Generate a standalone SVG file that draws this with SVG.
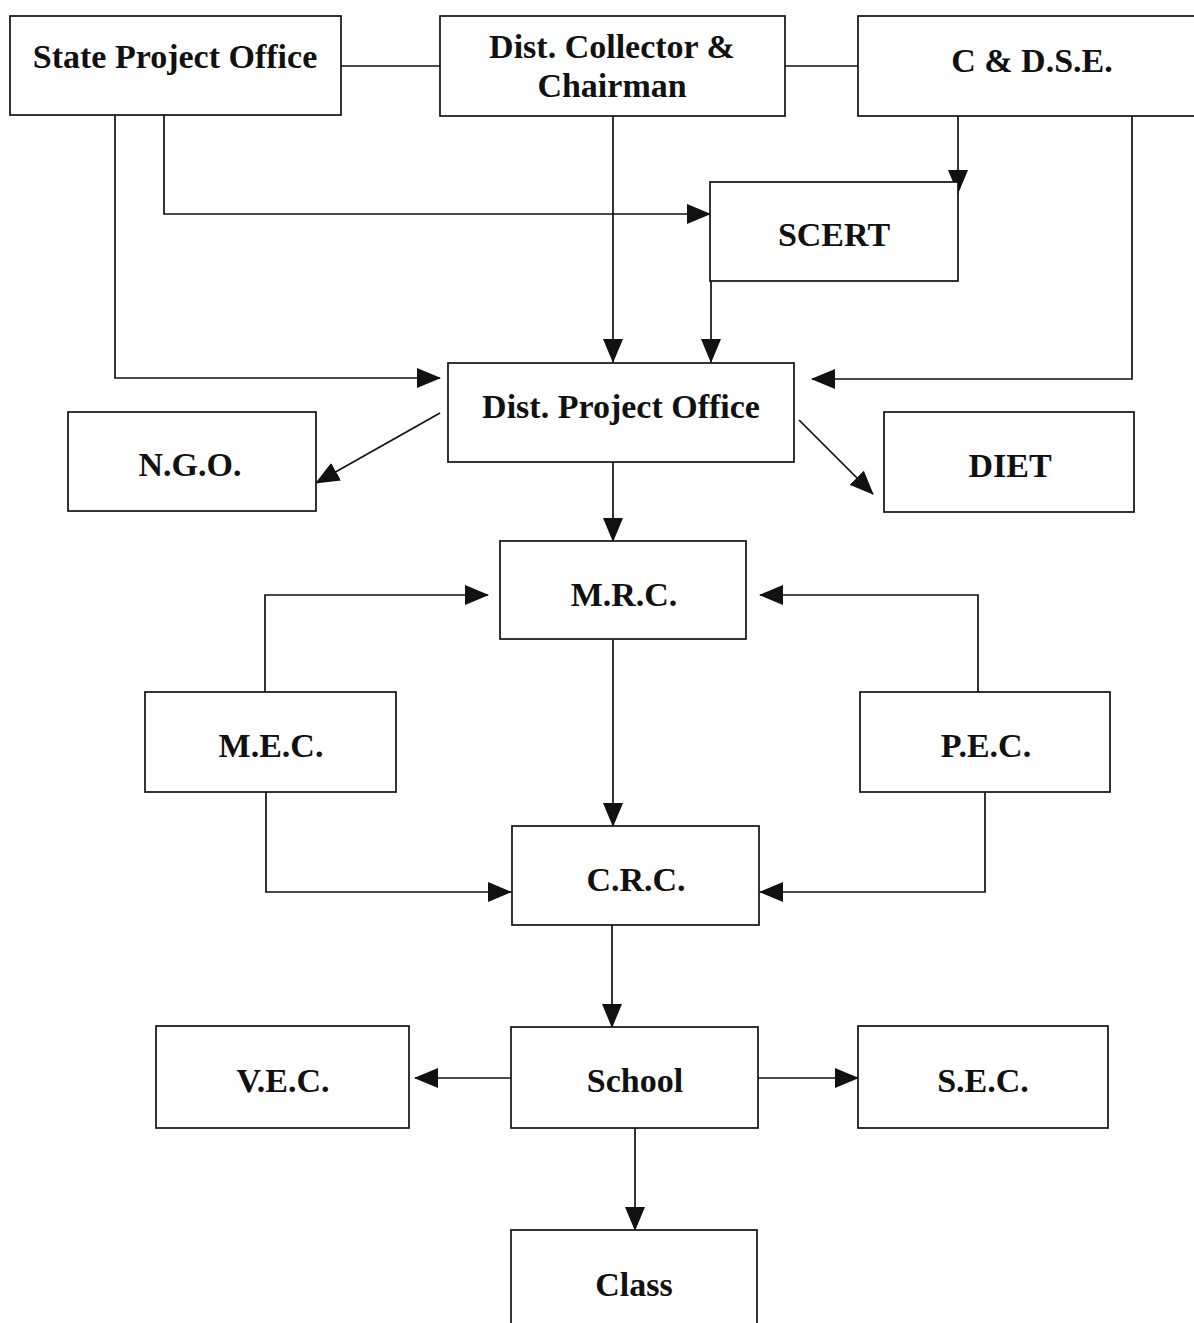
<svg xmlns="http://www.w3.org/2000/svg" width="1194" height="1323" viewBox="0 0 1194 1323">
<style>
.box{fill:#fff;stroke:#111;stroke-width:1.7}
.lbl{font-family:"Liberation Serif","Times New Roman",serif;font-weight:bold;font-size:34px;fill:#111;text-anchor:middle}
.c{fill:none;stroke:#111;stroke-width:1.7}
</style>
<defs>
<marker id="ah" markerUnits="userSpaceOnUse" markerWidth="24" markerHeight="20" refX="23" refY="10" orient="auto">
<path d="M0,0 L24,10 L0,20 Z" fill="#111"/>
</marker>
</defs>
<rect width="1194" height="1323" fill="#fff"/>
<g id="connectors">
<path class="c" d="M341,66 H440"/>
<path class="c" d="M785,66 H858"/>
<path class="c" d="M115,115 V378 H440" marker-end="url(#ah)"/>
<path class="c" d="M164,115 V214 H710" marker-end="url(#ah)"/>
<path class="c" d="M613,116 V362" marker-end="url(#ah)"/>
<path class="c" d="M958,116 V193" marker-end="url(#ah)"/>
<path class="c" d="M711,281 V362" marker-end="url(#ah)"/>
<path class="c" d="M1132,116 V379 H812" marker-end="url(#ah)"/>
<path class="c" d="M440,413 L316,483" marker-end="url(#ah)"/>
<path class="c" d="M799,420 L873,494" marker-end="url(#ah)"/>
<path class="c" d="M613,462 V541" marker-end="url(#ah)"/>
<path class="c" d="M265,692 V595 H488" marker-end="url(#ah)"/>
<path class="c" d="M978,692 V595 H760" marker-end="url(#ah)"/>
<path class="c" d="M613,640 V826" marker-end="url(#ah)"/>
<path class="c" d="M266,792 V892 H511" marker-end="url(#ah)"/>
<path class="c" d="M985,792 V892 H760" marker-end="url(#ah)"/>
<path class="c" d="M612,925 V1027" marker-end="url(#ah)"/>
<path class="c" d="M511,1078 H415" marker-end="url(#ah)"/>
<path class="c" d="M758,1078 H858" marker-end="url(#ah)"/>
<path class="c" d="M635,1128 V1230" marker-end="url(#ah)"/>
</g>
<g id="state"><rect class="box" x="10" y="16" width="331" height="99"/><text class="lbl" x="175" y="68">State Project Office</text></g>
<g id="collector"><rect class="box" x="440" y="16" width="345" height="100"/><text class="lbl" x="612" y="58">Dist. Collector &amp;</text><text class="lbl" x="612" y="97">Chairman</text></g>
<g id="cdse"><rect class="box" x="858" y="16" width="340" height="100"/><text class="lbl" x="1032" y="72">C &amp; D.S.E.</text></g>
<g id="scert"><rect class="box" x="710" y="182" width="248" height="99"/><text class="lbl" x="834" y="246">SCERT</text></g>
<g id="dpo"><rect class="box" x="448" y="363" width="346" height="99"/><text class="lbl" x="621" y="418">Dist. Project Office</text></g>
<g id="ngo"><rect class="box" x="68" y="412" width="248" height="99"/><text class="lbl" x="190" y="476">N.G.O.</text></g>
<g id="diet"><rect class="box" x="884" y="412" width="250" height="100"/><text class="lbl" x="1010" y="477">DIET</text></g>
<g id="mrc"><rect class="box" x="500" y="541" width="246" height="98"/><text class="lbl" x="624" y="606">M.R.C.</text></g>
<g id="mec"><rect class="box" x="145" y="692" width="251" height="100"/><text class="lbl" x="271" y="757">M.E.C.</text></g>
<g id="pec"><rect class="box" x="860" y="692" width="250" height="100"/><text class="lbl" x="986" y="757">P.E.C.</text></g>
<g id="crc"><rect class="box" x="512" y="826" width="247" height="99"/><text class="lbl" x="636" y="891">C.R.C.</text></g>
<g id="vec"><rect class="box" x="156" y="1026" width="253" height="102"/><text class="lbl" x="283" y="1092">V.E.C.</text></g>
<g id="school"><rect class="box" x="511" y="1027" width="247" height="101"/><text class="lbl" x="635" y="1092">School</text></g>
<g id="sec"><rect class="box" x="858" y="1026" width="250" height="102"/><text class="lbl" x="983" y="1092">S.E.C.</text></g>
<g id="class"><rect class="box" x="511" y="1230" width="246" height="110"/><text class="lbl" x="634" y="1296">Class</text></g>
</svg>
